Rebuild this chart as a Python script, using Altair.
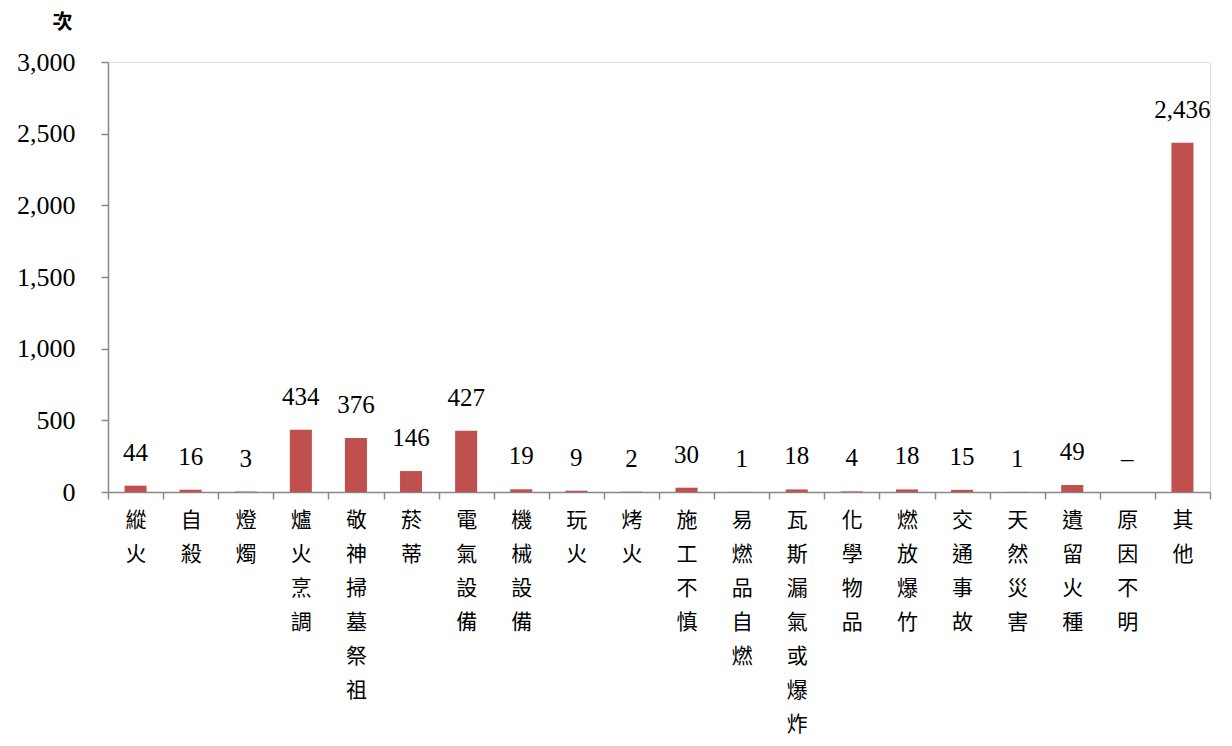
import altair as alt
import pandas as pd

categories = ["縱火", "自殺", "燈燭", "爐火烹調", "敬神掃墓祭祖", "菸蒂", "電氣設備", "機械設備",
              "玩火", "烤火", "施工不慎", "易燃品自燃", "瓦斯漏氣或爆炸", "化學物品", "燃放爆竹",
              "交通事故", "天然災害", "遺留火種", "原因不明", "其他"]
counts = [44, 16, 3, 434, 376, 146, 427, 19, 9, 2, 30, 1, 18, 4, 18, 15, 1, 49, 0, 2436]
labels = ["44", "16", "3", "434", "376", "146", "427", "19", "9", "2", "30", "1", "18", "4", "18",
          "15", "1", "49", "–", "2,436"]

df = pd.DataFrame({"cat": categories, "n": counts, "lab": labels})

NUM_FONT = "Liberation Serif, Noto Sans CJK TC"
CJK_FONT = "Noto Sans CJK TC"

x = alt.X("cat:N", sort=categories,
          scale=alt.Scale(paddingInner=0, paddingOuter=0),
          axis=alt.Axis(title=None, labelAngle=0, tickBand="extent",
                        labelExpr="split(datum.label, '')",
                        labelLineHeight=34, labelBaseline="top", labelPadding=10,
                        labelFont=CJK_FONT, labelFontSize=21, labelColor="#000",
                        domainColor="#888", tickColor="#888", tickSize=7,
                        domainWidth=1.5, tickWidth=1.5))

y = alt.Y("n:Q", scale=alt.Scale(domain=[0, 3000]),
          axis=alt.Axis(title="次", titleAngle=0, titleAlign="center", titleBaseline="middle",
                        titleX=-46, titleY=-40, titleFont=CJK_FONT, titleFontSize=20,
                        titleFontWeight="bold", titleColor="#000",
                        values=[0, 500, 1000, 1500, 2000, 2500, 3000], format=",d",
                        labelFont=NUM_FONT, labelFontSize=26, labelColor="#000",
                        labelPadding=26, grid=False,
                        domainColor="#888", tickColor="#888", tickSize=7,
                        domainWidth=1.5, tickWidth=1.5))

bars = alt.Chart(df).mark_bar(color="#C0504D", width=alt.RelativeBandSize(0.4)).encode(x=x, y=y)
text = alt.Chart(df).mark_text(baseline="bottom", dy=-20, font=NUM_FONT, fontSize=25,
                               color="#000").encode(x=x, y=y, text="lab:N")

chart = (bars + text).properties(
    width=1102, height=430,
    autosize=alt.AutoSizeParams(type="none"),
    padding={"left": 100, "top": 54, "right": 10, "bottom": 250},
).configure_view(stroke=None).configure(background="white")

chart.save("out.html", embed_options={"renderer": "svg", "actions": False})
